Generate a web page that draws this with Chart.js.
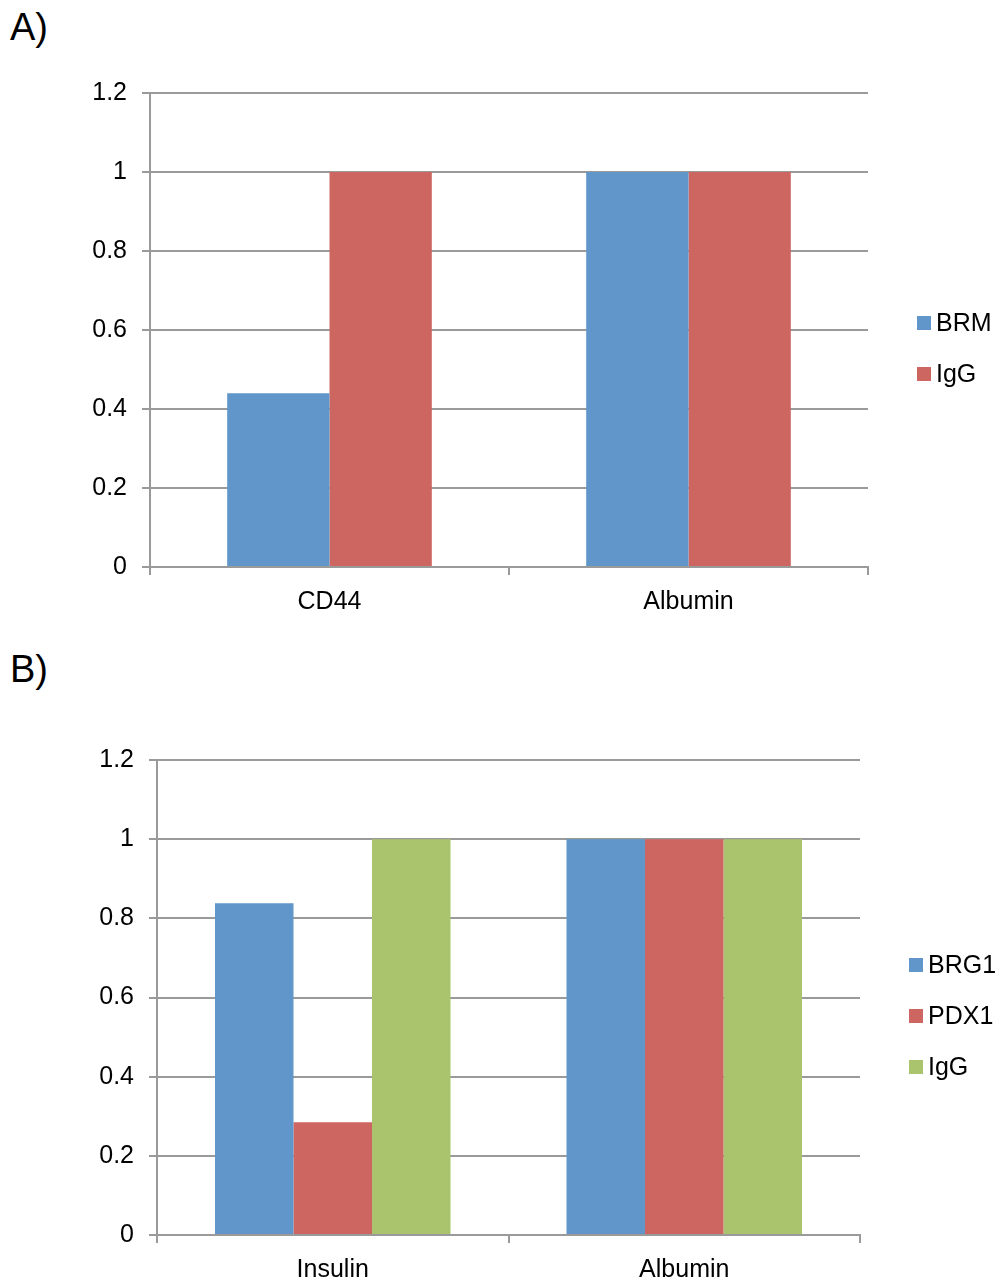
<!DOCTYPE html>
<html>
<head>
<meta charset="utf-8">
<script src="https://cdn.jsdelivr.net/npm/chart.js@4.4.0/dist/chart.umd.min.js"></script>
<style>
  body { margin: 0; background: #fff; font-family: "Liberation Sans", Arial, sans-serif; }
  .panel { position: absolute; left: 0; width: 1000px; }
  .tag { position: absolute; left: 10px; font-size: 38px; color: #000; }
</style>
</head>
<body>
<div class="tag" style="top:6px">A)</div>
<div class="panel" style="top:0; height:640px"><canvas id="chartA"></canvas></div>
<div class="tag" style="top:648px">B)</div>
<div class="panel" style="top:640px; height:642px"><canvas id="chartB"></canvas></div>
<script>
// data
const catsA = ['CD44', 'Albumin'];
const brm = [0.44, 1];
const iggA = [1, 1];

const catsB = ['Insulin', 'Albumin'];
const brg1 = [0.838, 1];
const pdx1 = [0.285, 1];
const iggB = [1, 1];

const yTicks = ['0', '0.2', '0.4', '0.6', '0.8', '1', '1.2'];

const BLUE = '#6096C9';
const RED = '#CD6660';
const GREEN = '#A9C46C';
const GRID = '#9a9a9a';
const FONT = { family: '"Liberation Sans", Arial, sans-serif', size: 25 };

// draws the legend to the right of the plot, like the excel one
const sideLegend = {
    id: 'sideLegend',
    afterDraw(chart, args, opts) {
        const ctx = chart.ctx;
        ctx.save();
        ctx.font = FONT.size + 'px ' + FONT.family;
        ctx.textBaseline = 'middle';
        ctx.textAlign = 'left';
        chart.data.datasets.forEach((ds, i) => {
            const y = opts.top + i * 51;
            ctx.fillStyle = ds.backgroundColor;
            ctx.fillRect(opts.x, y - 7, 14, 14);
            ctx.fillStyle = '#000';
            ctx.fillText(ds.label, opts.x + opts.gap, y + 1);
        });
        ctx.restore();
    }
};

function makeChart(id, cats, datasets, box) {
    return new Chart(document.getElementById(id), {
        type: 'bar',
        plugins: [sideLegend],
        data: { labels: cats, datasets: datasets },
        options: {
            responsive: true,
            maintainAspectRatio: false,
            animation: false,
            layout: { padding: { top: box.top, right: box.right, left: 0, bottom: 0 } },
            datasets: { bar: { categoryPercentage: box.cat, barPercentage: 1 } },
            plugins: {
                legend: { display: false },
                tooltip: { enabled: false },
                sideLegend: box.legend
            },
            scales: {
                y: {
                    min: 0,
                    max: 1.2,
                    afterFit(scale) { scale.width = box.left; },
                    ticks: {
                        stepSize: 0.2,
                        color: '#000',
                        font: FONT,
                        padding: 15,
                        callback: (v, i) => yTicks[i]
                    },
                    grid: { color: GRID, lineWidth: 2, tickLength: 8 },
                    border: { color: GRID, width: 2 }
                },
                x: {
                    afterFit(scale) { scale.height = box.xh; },
                    ticks: { color: '#000', font: FONT, padding: 12 },
                    grid: { color: GRID, lineWidth: 2, drawOnChartArea: false, tickLength: 8 },
                    border: { color: GRID, width: 2 }
                }
            }
        }
    });
}

makeChart('chartA', catsA, [
    { label: 'BRM', data: brm, backgroundColor: BLUE },
    { label: 'IgG', data: iggA, backgroundColor: RED }
], { top: 93, right: 132, left: 150, xh: 73, cat: 0.57, legend: { x: 917, gap: 19, top: 323 } });

makeChart('chartB', catsB, [
    { label: 'BRG1', data: brg1, backgroundColor: BLUE },
    { label: 'PDX1', data: pdx1, backgroundColor: RED },
    { label: 'IgG', data: iggB, backgroundColor: GREEN }
], { top: 120, right: 140, left: 157, xh: 47, cat: 0.67, legend: { x: 909, gap: 19, top: 325 } });
</script>
</body>
</html>
